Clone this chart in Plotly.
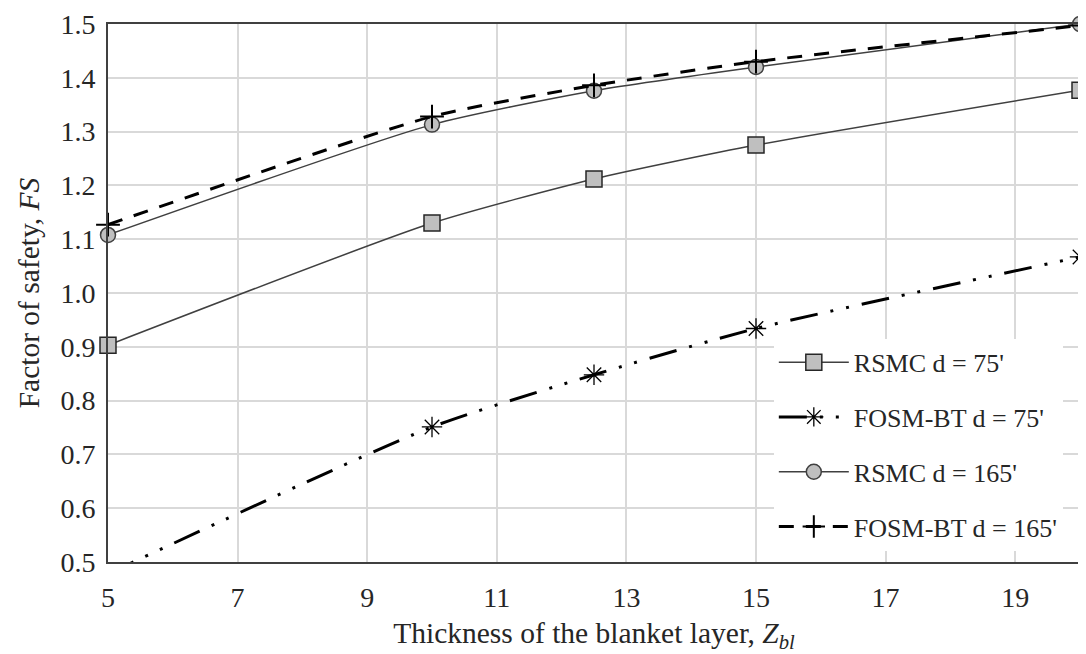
import plotly.graph_objects as go

thickness = [5, 10, 12.5, 15, 20]
rsmc_75 = [0.903, 1.130, 1.212, 1.275, 1.377]
fosm_75 = [0.478, 0.751, 0.848, 0.934, 1.067]
rsmc_165 = [1.108, 1.313, 1.376, 1.420, 1.500]
fosm_165 = [1.127, 1.328, 1.386, 1.430, 1.497]

x_ticks = [5, 7, 9, 11, 13, 15, 17, 19]
y_ticks = [0.5, 0.6, 0.7, 0.8, 0.9, 1.0, 1.1, 1.2, 1.3, 1.4, 1.5]

FONT = "Times New Roman, Liberation Serif, serif"
TXT = "#262626"
TICK_SIZE = 28
TITLE_SIZE = 29.5
LEG_SIZE = 26

fig = go.Figure()

fig.add_trace(go.Scatter(
    x=thickness, y=rsmc_75, name="RSMC d = 75'", mode="lines+markers",
    legendgroup="a",
    line=dict(color="#404040", width=1.5, shape="spline", smoothing=0.6),
    marker=dict(symbol="square", size=16, color="#bfbfbf",
                line=dict(color="#262626", width=1.5)),
    cliponaxis=False,
))
fig.add_trace(go.Scatter(
    x=thickness, y=fosm_75, name="FOSM-BT d = 75'", mode="lines+markers",
    legendgroup="b",
    line=dict(color="#000000", width=3, shape="spline", smoothing=0.6,
              dash="28px,13px,3px,13px,3px,13px"),
    marker=dict(symbol="asterisk-open", size=17, color="#000000",
                line=dict(color="#000000", width=1.3)),
))
fig.add_trace(go.Scatter(
    x=thickness, y=rsmc_165, name="RSMC d = 165'", mode="lines+markers",
    legendgroup="c",
    line=dict(color="#404040", width=1.5, shape="spline", smoothing=0.6),
    marker=dict(symbol="circle", size=15, color="#bfbfbf",
                line=dict(color="#404040", width=1.5)),
    cliponaxis=False,
))
fig.add_trace(go.Scatter(
    x=thickness, y=fosm_165, name="FOSM-BT d = 165'", mode="lines+markers",
    legendgroup="d",
    line=dict(color="#000000", width=3, shape="spline", smoothing=0.6,
              dash="15px,12px"),
    marker=dict(symbol="cross-thin-open", size=17, color="#000000",
                line=dict(color="#000000", width=2)),
    cliponaxis=False,
))

# page body has an 8px margin, so the figure is offset by 8px
fig.update_layout(
    width=1078, height=646,
    margin=dict(l=100, r=6, t=16, b=92),
    paper_bgcolor="white", plot_bgcolor="white",
    font=dict(family=FONT, size=TICK_SIZE, color=TXT),
    showlegend=True,
    legend=dict(
        x=0.685, y=0.415, xanchor="left", yanchor="top",
        bgcolor="white", borderwidth=0,
        font=dict(family=FONT, size=LEG_SIZE, color=TXT),
        tracegroupgap=18, traceorder="grouped", itemwidth=70,
    ),
)

fig.update_xaxes(
    range=[5, 20], tickmode="array", tickvals=x_ticks,
    ticktext=[str(v) for v in x_ticks],
    showgrid=True, gridcolor="#d9d9d9", gridwidth=1.5,
    showline=True, linecolor="#404040", linewidth=2, mirror=True,
    ticks="", zeroline=False, ticklabelstandoff=9,
    tickfont=dict(family=FONT, size=TICK_SIZE, color=TXT),
    title=dict(text="Thickness of the blanket layer, <i>Z</i><sub><i>bl</i></sub>",
               font=dict(family=FONT, size=TITLE_SIZE, color=TXT), standoff=11),
    automargin=False,
)
fig.update_yaxes(
    range=[0.5, 1.5], tickmode="array", tickvals=y_ticks,
    ticktext=[f"{v:.1f}" for v in y_ticks],
    showgrid=True, gridcolor="#d9d9d9", gridwidth=1.5,
    showline=True, linecolor="#404040", linewidth=2, mirror=True,
    ticks="", zeroline=False, ticklabelstandoff=5,
    tickfont=dict(family=FONT, size=TICK_SIZE, color=TXT),
    title=dict(text="Factor of safety, <i>FS</i>",
               font=dict(family=FONT, size=TITLE_SIZE, color=TXT), standoff=12),
    automargin=False,
)

fig.write_html("out.html")
